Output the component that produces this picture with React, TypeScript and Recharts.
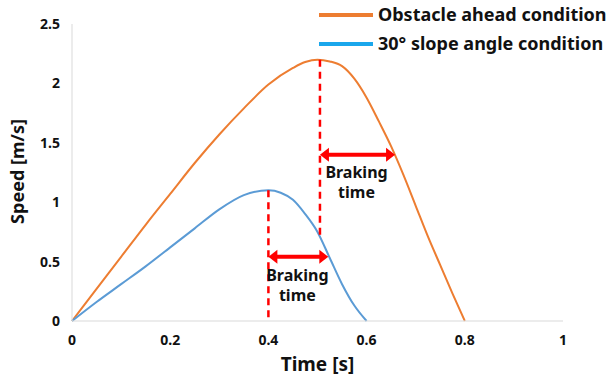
import React from 'react';
import {
    LineChart,
    Line,
    XAxis,
    YAxis,
    ReferenceLine,
    ReferenceDot,
} from 'recharts';

// Obstacle ahead condition (orange)
const obstacleTime = [0, 0.05, 0.1, 0.15, 0.2, 0.25, 0.3, 0.35, 0.4, 0.45, 0.475, 0.5, 0.525, 0.55, 0.575, 0.6, 0.625, 0.65, 0.675, 0.7, 0.725, 0.75, 0.775, 0.8];
const obstacleSpeed = [0, 0.27, 0.54, 0.81, 1.07, 1.33, 1.57, 1.79, 1.99, 2.13, 2.18, 2.2, 2.185, 2.145, 2.04, 1.88, 1.68, 1.47, 1.23, 0.97, 0.71, 0.47, 0.23, 0];

// 30° slope angle condition (blue)
const slopeTime = [0, 0.05, 0.1, 0.15, 0.2, 0.25, 0.3, 0.35, 0.4, 0.425, 0.45, 0.475, 0.5, 0.525, 0.55, 0.575, 0.6];
const slopeSpeed = [0, 0.16, 0.31, 0.46, 0.62, 0.78, 0.94, 1.06, 1.1, 1.08, 1.02, 0.9, 0.75, 0.53, 0.31, 0.13, 0];

const xTicks = [0, 0.2, 0.4, 0.6, 0.8, 1];
const yTicks = [0, 0.5, 1, 1.5, 2, 2.5];

const seriesNames = ['Obstacle ahead condition', '30° slope angle condition'];
const brakingLabel = ['Braking', 'time'];

// braking markers: start time, end time, arrow speed
const obstacleBrake = { start: 0.505, end: 0.658, speed: 1.4, top: 2.2, bottom: 0.71 };
const slopeBrake = { start: 0.4, end: 0.522, speed: 0.54, top: 1.1, bottom: 0 };

const obstacleData = obstacleTime.map((t, i) => ({ t, v: obstacleSpeed[i] }));
const slopeData = slopeTime.map((t, i) => ({ t, v: slopeSpeed[i] }));

const FONT = '"Noto Sans", "Open Sans", sans-serif';
const RED = '#FF0000';
const INK = '#111';

const ArrowShape = (props: any) => {
    const { x1, y1, x2 } = props;
    const h = 7;
    const len = 9;
    return (
        <g>
            <line x1={x1 + len - 1} y1={y1} x2={x2 - len + 1} y2={y1} stroke={RED} strokeWidth={4} />
            <polygon points={`${x1},${y1} ${x1 + len},${y1 - h} ${x1 + len},${y1 + h}`} fill={RED} />
            <polygon points={`${x2},${y1} ${x2 - len},${y1 - h} ${x2 - len},${y1 + h}`} fill={RED} />
        </g>
    );
};

const BrakingText = (props: any) => {
    const { cx, cy } = props;
    return (
        <text x={cx} y={cy} textAnchor="middle" fontFamily={FONT} fontWeight={700} fontSize={16} fill={INK}>
            <tspan x={cx} dy="0">{brakingLabel[0]}</tspan>
            <tspan x={cx} dy="20">{brakingLabel[1]}</tspan>
        </text>
    );
};

const YLabel = (props: any) => {
    const { viewBox } = props;
    const x = 17;
    const y = viewBox.y + viewBox.height / 2 - 1;
    return (
        <text x={x} y={y} transform={`rotate(-90, ${x}, ${y})`} textAnchor="middle" dominantBaseline="central"
            fontFamily={FONT} fontWeight={700} fontSize={18} fill={INK}>
            Speed [m/s]
        </text>
    );
};

export default function App() {
    return (
        <div style={{ position: 'absolute', left: 0, top: 0, width: 613, height: 377, background: '#fff', fontFamily: FONT }}>
            <LineChart width={613} height={377} margin={{ top: 24, right: 50, bottom: 0, left: 0 }}>
                <XAxis
                    type="number"
                    dataKey="t"
                    domain={[0, 1]}
                    ticks={xTicks}
                    tickLine={false}
                    tickMargin={8}
                    stroke="#D9D9D9"
                    height={56}
                    tick={{ fill: INK, fontSize: 14, fontWeight: 700, fontFamily: FONT }}
                    allowDuplicatedCategory={false}
                    label={{ value: 'Time [s]', position: 'insideBottom', offset: 6, fill: INK, fontSize: 19, fontWeight: 700, fontFamily: FONT }}
                />
                <YAxis
                    type="number"
                    domain={[0, 2.5]}
                    ticks={yTicks}
                    tickLine={false}
                    tickMargin={6}
                    stroke="#D9D9D9"
                    width={72}
                    tick={{ fill: INK, fontSize: 14, fontWeight: 700, fontFamily: FONT }}
                    label={{ content: YLabel }}
                />
                <Line
                    data={obstacleData}
                    dataKey="v"
                    type="monotone"
                    stroke="#ED7D31"
                    strokeWidth={2}
                    dot={false}
                    isAnimationActive={false}
                />
                <Line
                    data={slopeData}
                    dataKey="v"
                    type="monotone"
                    stroke="#5B9BD5"
                    strokeWidth={2}
                    dot={false}
                    isAnimationActive={false}
                />
                <ReferenceLine
                    segment={[{ x: obstacleBrake.start, y: obstacleBrake.top }, { x: obstacleBrake.start, y: obstacleBrake.bottom }]}
                    stroke={RED}
                    strokeWidth={2.5}
                    strokeDasharray="7 5"
                />
                <ReferenceLine
                    segment={[{ x: slopeBrake.start, y: slopeBrake.top }, { x: slopeBrake.start, y: slopeBrake.bottom }]}
                    stroke={RED}
                    strokeWidth={2.5}
                    strokeDasharray="7 5"
                />
                <ReferenceLine
                    segment={[{ x: obstacleBrake.start, y: obstacleBrake.speed }, { x: obstacleBrake.end, y: obstacleBrake.speed }]}
                    shape={ArrowShape}
                />
                <ReferenceLine
                    segment={[{ x: slopeBrake.start, y: slopeBrake.speed }, { x: slopeBrake.end, y: slopeBrake.speed }]}
                    shape={ArrowShape}
                />
                <ReferenceDot x={(obstacleBrake.start + obstacleBrake.end) / 2 - 0.002} y={obstacleBrake.speed - 0.2} r={0} shape={BrakingText} />
                <ReferenceDot x={(slopeBrake.start + slopeBrake.end) / 2 - 0.002} y={slopeBrake.speed - 0.2} r={0} shape={BrakingText} />
            </LineChart>
            <div style={{ position: 'absolute', left: 319, top: 0, lineHeight: '29px', fontSize: 18, fontWeight: 700, color: INK, whiteSpace: 'nowrap' }}>
                {seriesNames.map((name, i) => (
                    <div key={name} style={{ display: 'flex', alignItems: 'center' }}>
                        <span style={{ display: 'inline-block', width: 54, height: 4, background: i === 0 ? '#ED7D31' : '#1AA7EC', marginRight: 5 }} />
                        <span>{name}</span>
                    </div>
                ))}
            </div>
        </div>
    );
}
